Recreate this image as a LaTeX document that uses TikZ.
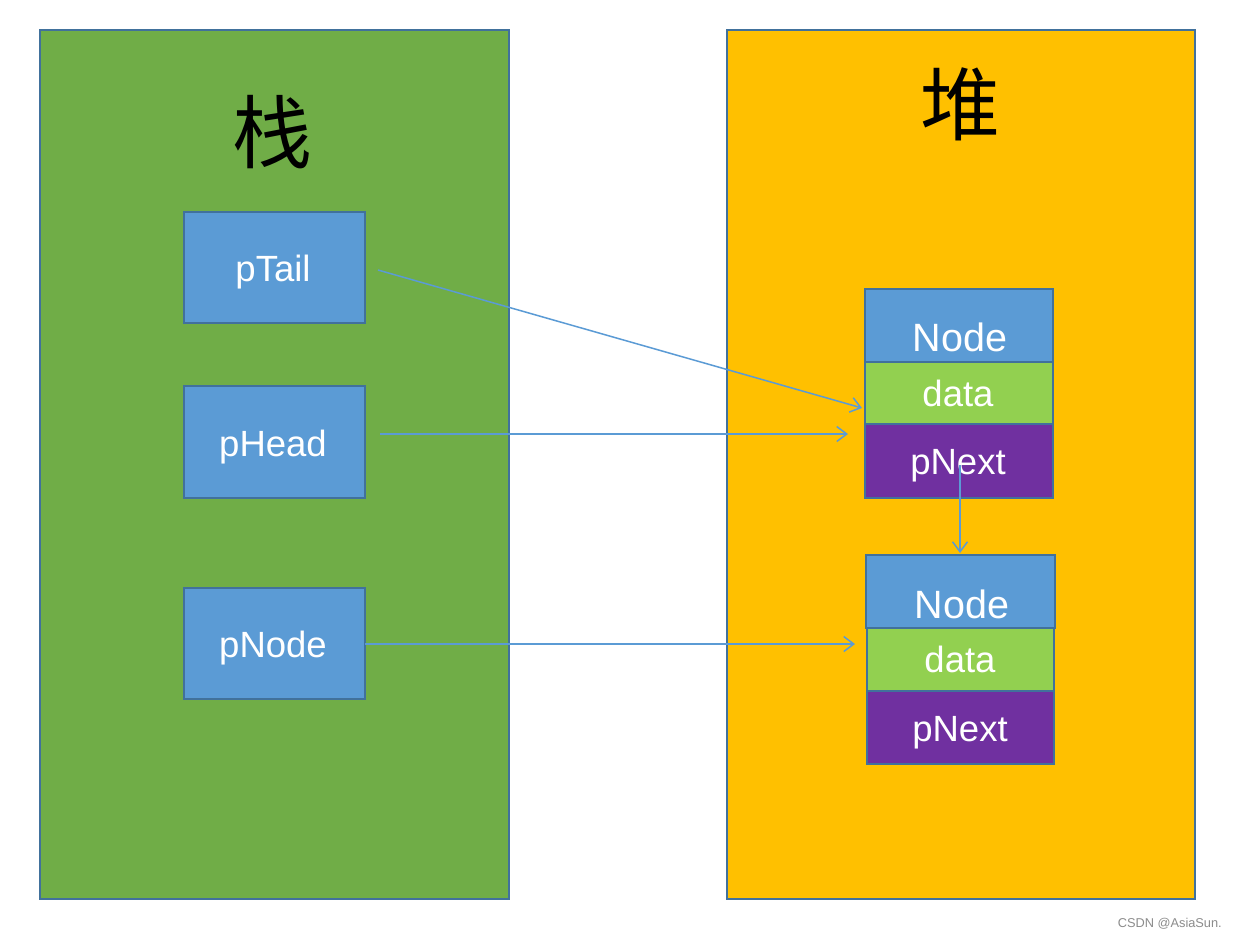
\documentclass[tikz,border=0pt]{standalone}
\usepackage{fontspec}
\setmainfont{Liberation Sans}
\newfontfamily\cjk{Noto Sans CJK SC}
\usetikzlibrary{arrows.meta}
\definecolor{stackgreen}{HTML}{70AD47}
\definecolor{heapyellow}{HTML}{FFC000}
\definecolor{boxblue}{HTML}{5B9BD5}
\definecolor{edgeblue}{HTML}{41719C}
\definecolor{datagreen}{HTML}{92D050}
\definecolor{nextpurple}{HTML}{7030A0}
\tikzset{
  region/.style={draw=edgeblue, line width=1.5pt},
  cell/.style={draw=edgeblue, line width=2pt, inner sep=0pt},
  lbl/.style={text=white, font=\fontsize{36.5}{40}\selectfont, anchor=base, inner sep=0pt},
  biglbl/.style={text=white, font=\fontsize{39.5}{44}\selectfont, anchor=base, inner sep=0pt},
  ptr/.style={draw=boxblue, line width=1.5pt, -{Straight Barb[length=10pt,width=15pt,line width=1.5pt]}},
}
\begin{document}
\begin{tikzpicture}[x=1pt,y=-1pt]
\useasboundingbox[fill=white] (0,0) rectangle (1236,938);
% regions
\draw[region, fill=stackgreen] (40,30) rectangle (509,899);
\draw[region, fill=heapyellow] (727,30) rectangle (1195,899);
\node[font=\cjk\fontsize{80}{80}\selectfont, inner sep=0pt] (zhan) at (272,132) {栈};
\node[font=\cjk\fontsize{80}{80}\selectfont, inner sep=0pt] (dui) at (960,104) {堆};
% stack boxes
\draw[cell, fill=boxblue] (184,212) rectangle (365,323);
\draw[cell, fill=boxblue] (184,386) rectangle (365,498);
\draw[cell, fill=boxblue] (184,588) rectangle (365,699);
\node[lbl] (ptail) at (273,281) {pTail};
\node[lbl] (phead) at (273,456) {pHead};
\node[lbl] (pnode) at (273,657) {pNode};
% heap node 1
\draw[cell, fill=boxblue] (865,289) rectangle (1053,362);
\draw[cell, fill=datagreen] (865,362) rectangle (1053,424);
\draw[cell, fill=nextpurple] (865,424) rectangle (1053,498);
\node[biglbl] (n1node) at (960,351) {Node};
\node[lbl] (n1data) at (958,406) {data};
\node[lbl] (n1next) at (958,474) {pNext};
% heap node 2
\draw[cell, fill=boxblue] (866,555) rectangle (1055,628);
\draw[cell, fill=datagreen] (867,628) rectangle (1054,691);
\draw[cell, fill=nextpurple] (867,691) rectangle (1054,764);
\node[biglbl] (n2node) at (962,618) {Node};
\node[lbl] (n2data) at (960,672) {data};
\node[lbl] (n2next) at (960,741) {pNext};
% pointer ends
\coordinate (tailS) at (378,270);
\coordinate (tailE) at (862,408);
\coordinate (headS) at (380,434);
\coordinate (headE) at (848,434);
\coordinate (nodeS) at (365,644);
\coordinate (nodeE) at (855,644);
\coordinate (nextS) at (960,465);
\coordinate (nextE) at (960,553);
\draw[ptr] (tailS) -- (tailE);
\draw[ptr] (headS) -- (headE);
\draw[ptr] (nodeS) -- (nodeE);
\draw[ptr] (nextS) -- (nextE);
% watermark
\node[text=black!45, font=\fontsize{12.8}{15}\selectfont, anchor=base east, inner sep=0pt] (wm) at (1222,927) {CSDN @AsiaSun.};
\end{tikzpicture}
\end{document}
